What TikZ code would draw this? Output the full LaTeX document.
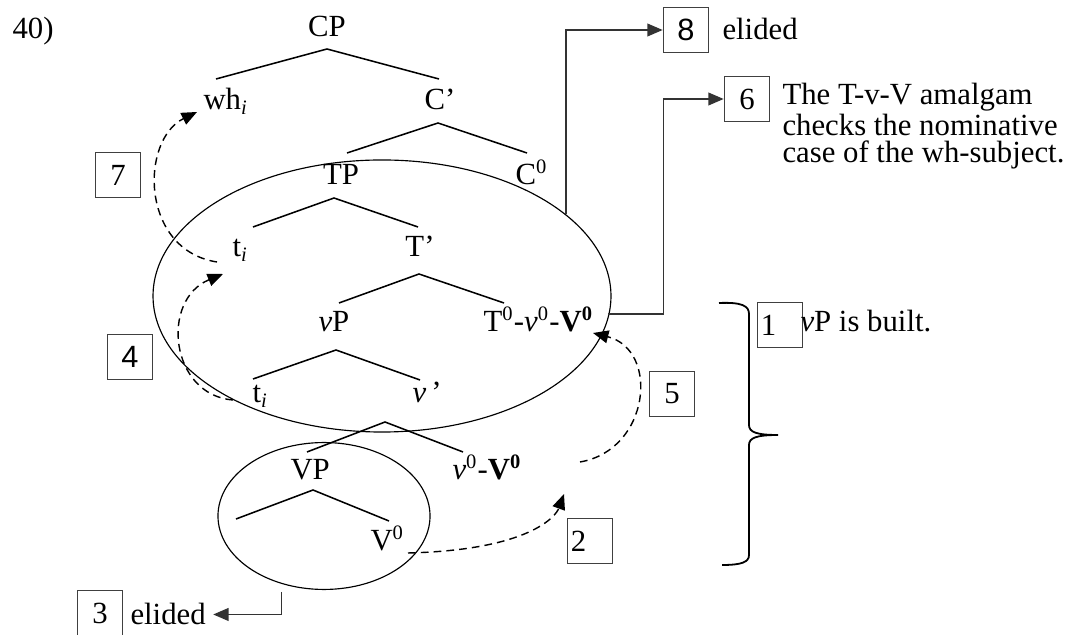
\documentclass[tikz,border=0pt]{standalone}
\usepackage{fontspec}
\setmainfont{Liberation Serif}
\newfontfamily\arialfont{Liberation Sans}
\usetikzlibrary{arrows.meta,calc,shapes.geometric}

\begin{document}
\begin{tikzpicture}[
  x=0.39pt, y=-0.39pt,
  font=\fontsize{12}{13}\selectfont,
  >={Triangle[length=6pt,width=5pt]},
  lab/.style={inner sep=0pt, anchor=base west},
  branch/.style={line width=0.6pt},
  numbox/.style={draw=black!75, line width=0.6pt, minimum size=17.6pt, inner sep=0pt},
  leftbox/.style={numbox, text width=15pt, inner xsep=1.3pt, align=left},
  phase/.style={draw, ellipse, line width=0.45pt, inner sep=0pt},
  move/.style={->, dash pattern=on 3pt off 2pt, line width=0.55pt},
  link/.style={->, line width=0.6pt, black!80},
]
  \useasboundingbox (0,0) rectangle (1077,635);

  \node[lab] (ex) at (12,39) {40)};

  % the two spell-out domains
  \node[phase, minimum width=178.6pt, minimum height=106.1pt] (bigell) at (382,296) {};
  \node[phase, minimum width=82.7pt, minimum height=57.3pt] (smell) at (324,516) {};

  % tree labels, set on their baselines
  \node[lab, anchor=base] (cp) at (327,37) {CP};
  \node[lab] (wh) at (203,110) {wh\textsubscript{\textit{i}}};
  \node[lab, anchor=base] (cbar) at (440,110) {C’};
  \node[lab, anchor=base] (tp) at (341,185) {TP};
  \node[lab] (czero) at (515,185) {C\textsuperscript{0}};
  \node[lab] (tia) at (232,257) {t\textsubscript{\textit{i}}};
  \node[lab, anchor=base] (tbar) at (420,257) {T’};
  \node[lab] (vp) at (318,332) {\textit{v}P};
  \node[lab] (tvv) at (483,332)
       {T\textsuperscript{0}-\textit{v}\textsuperscript{0}-\textbf{V\textsuperscript{0}}};
  \node[lab] (tib) at (252,403) {t\textsubscript{\textit{i}}};
  \node[lab] (vbar) at (412,403) {\textit{v}\,’};
  \node[lab] (vpl) at (290,480) {VP};
  \node[lab] (vvz) at (452,480) {\textit{v}\textsuperscript{0}-\textbf{V\textsuperscript{0}}};
  \coordinate (leaf) at (236,519);
  \node[lab] (vzero) at (370,551) {V\textsuperscript{0}};

  % branches
  \draw[branch] ($(wh.base west)+(13,-31)$) -- ($(cp.base)+(0,12)$) -- ($(cbar.base)+(-1,-31)$);
  \draw[branch] ($(tp.base)+(6,-32)$) -- ($(cbar.base)+(-2,13)$) -- ($(czero.base west)+(12,-32)$);
  \draw[branch] ($(tia.base west)+(21,-30)$) -- ($(tp.base)+(-7,13)$) -- ($(tbar.base)+(-2,-30)$);
  \draw[branch] ($(vp.base west)+(21,-29)$) -- ($(tbar.base)+(-1,17)$) -- ($(tvv.base west)+(21,-29)$);
  \draw[branch] ($(tib.base west)+(1,-24)$) -- ($(vp.base west)+(18,18)$) -- ($(vbar.base west)+(8,-23)$);
  \draw[branch] ($(vpl.base west)+(17,-28)$) -- ($(vbar.base west)+(-27,19)$) -- ($(vvz.base west)+(11,-28)$);
  \draw[branch] (leaf) -- ($(vpl.base west)+(23,10)$) -- ($(vzero.base west)+(19,-30)$);

  % numbered steps
  \node[numbox] (box7) at (118,175) {7};
  \node[numbox] (box4) at (130,357) {\arialfont 4};
  \node[numbox] (box5) at (672,394) {5};
  \node[leftbox] (box2) at (590,541) {2};
  \node[leftbox] (box1) at (780,325) {1};
  \node[numbox] (box8) at (686,30) {\arialfont 8};
  \node[numbox] (box6) at (747,99) {6};
  \node[numbox] (box3) at (100,613) {3};

  \node[lab] (el8) at (722,40) {elided};
  % base of a three-line node is its last line
  \node[lab, align=left, font=\fontsize{12}{10.8}\selectfont] (note6) at (782,163)
       {The T-v-V amalgam\\checks the nominative\\case of the wh-subject.};
  \node[lab] (built) at (800,332) {\textit{v}P is built.};
  \node[lab] (el3) at (130,625) {elided};

  % movement
  \draw[move] ($(tia.base west)+(-15,5)$) .. controls +(-77,-12) and +(-57,28) .. ($(wh.base west)+(-6,2)$);
  \draw[move] ($(tib.base west)+(-19,-3)$) .. controls +(-63,-5) and +(-63,26) .. ($(tia.base west)+(-9,17)$);
  \draw[move] ($(vvz.base west)+(128,-18)$) .. controls +(70,-12) and +(67,17) .. ($(tvv.base west)+(110,1)$);
  \draw[move] ($(vzero.base west)+(38,2)$) .. controls +(122,-3) and +(-8,22) .. ($(vvz.base west)+(112,14)$);

  % pointers to the notes
  \draw[link] (bigell.24) |- (box8.west);
  \draw[link] ($(tvv.base west)+(125,-18)$) -| ($(box6.west)+(-60,0)$) -- (box6.west);
  \draw[link] ($(smell.-122)+(0,8)$) |- ($(el3.east)+(7,0)$);

  % brace over steps 1 to 5
  \draw[line width=0.7pt] (719,303) .. controls (742,302) and (749,306) .. (749,314) -- (749,425)
       .. controls (749,432) and (756,435) .. (778,435)
       .. controls (756,435) and (749,438) .. (749,445) -- (749,555)
       .. controls (749,562) and (742,565) .. (722,565);
\end{tikzpicture}
\end{document}
